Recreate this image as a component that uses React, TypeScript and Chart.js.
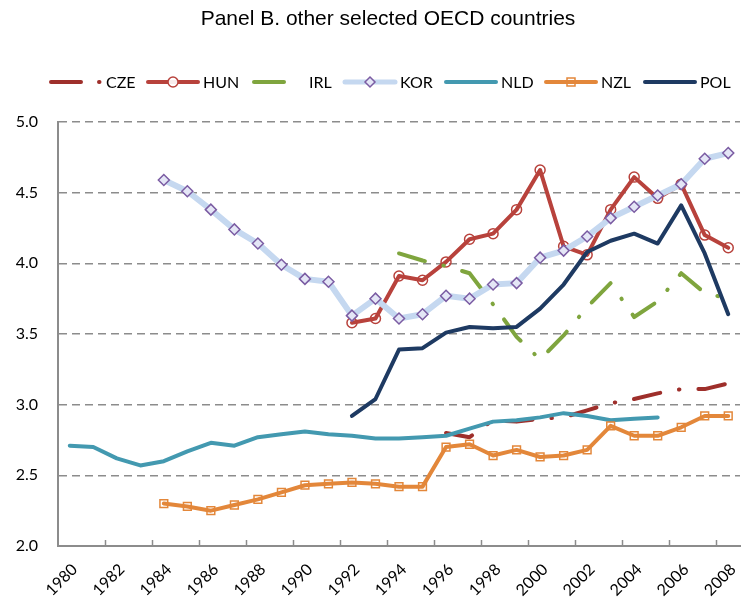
import React, { useEffect, useRef } from 'react';
import { Chart, registerables } from 'chart.js';

Chart.register(...registerables);

const TITLE = 'Panel B. other selected OECD countries';

const years = [
  '1980', '1981', '1982', '1983', '1984', '1985', '1986', '1987', '1988', '1989',
  '1990', '1991', '1992', '1993', '1994', '1995', '1996', '1997', '1998', '1999',
  '2000', '2001', '2002', '2003', '2004', '2005', '2006', '2007', '2008',
];

const yTicks = [2.0, 2.5, 3.0, 3.5, 4.0, 4.5, 5.0];

const CZE = [
  null, null, null, null, null, null, null, null, null, null,
  null, null, null, null, null, null, 2.80, 2.77, 2.89, 2.88,
  2.90, 2.91, 2.96, 3.01, 3.04, 3.08, 3.11, 3.11, 3.15,
];
const HUN = [
  null, null, null, null, null, null, null, null, null, null,
  null, null, 3.58, 3.61, 3.91, 3.88, 4.01, 4.17, 4.21, 4.38,
  4.66, 4.12, 4.06, 4.38, 4.61, 4.46, 4.56, 4.20, 4.11,
];
const IRL = [
  null, null, null, null, null, null, null, null, null, null,
  null, null, null, null, 4.07, 4.02, 3.98, 3.93, 3.71, 3.48,
  3.32, 3.49, 3.69, 3.86, 3.62, 3.73, 3.93, 3.79, 3.75,
];
const KOR = [
  null, null, null, null, 4.59, 4.51, 4.38, 4.24, 4.14, 3.99,
  3.89, 3.87, 3.63, 3.75, 3.61, 3.64, 3.77, 3.75, 3.85, 3.86,
  4.04, 4.09, 4.19, 4.32, 4.40, 4.48, 4.56, 4.74, 4.78,
];
const NLD = [
  2.71, 2.70, 2.62, 2.57, 2.60, 2.67, 2.73, 2.71, 2.77, 2.79,
  2.81, 2.79, 2.78, 2.76, 2.76, 2.77, 2.78, 2.83, 2.88, 2.89,
  2.91, 2.94, 2.92, 2.89, 2.90, 2.91, null, null, null,
];
const NZL = [
  null, null, null, null, 2.30, 2.28, 2.25, 2.29, 2.33, 2.38,
  2.43, 2.44, 2.45, 2.44, 2.42, 2.42, 2.70, 2.72, 2.64, 2.68,
  2.63, 2.64, 2.68, 2.85, 2.78, 2.78, 2.84, 2.92, 2.92,
];
const POL = [
  null, null, null, null, null, null, null, null, null, null,
  null, null, 2.92, 3.04, 3.39, 3.40, 3.51, 3.55, 3.54, 3.55,
  3.68, 3.85, 4.08, 4.16, 4.21, 4.14, 4.41, 4.07, 3.64,
];

const C = {
  CZE: '#9E2F2B',
  HUN: '#B8423C',
  IRL: '#7FA53E',
  KOR: '#C5D8F0',
  KORm: '#7B5CA3',
  KORf: '#E4E6F6',
  NLD: '#4399B0',
  NZL: '#E3873A',
  POL: '#1E3A62',
  grid: '#8C8C8C',
};

const DASHDOT = [27, 19, 0.5, 19];
const FONT = 'Lato, "Open Sans", sans-serif';

type Item = { label: string; color: string; dash?: number[]; marker?: string; mColor?: string; mFill?: string; width: number };
const legendItems: Item[] = [
  { label: 'CZE', color: C.CZE, dash: [30, 18, 0.5, 200], width: 4 },
  { label: 'HUN', color: C.HUN, marker: 'circle', mColor: C.HUN, mFill: 'rgba(255,255,255,0.9)', width: 4 },
  { label: 'IRL', color: C.IRL, dash: [30, 200], width: 4 },
  { label: 'KOR', color: C.KOR, marker: 'diamond', mColor: C.KORm, mFill: C.KORf, width: 5 },
  { label: 'NLD', color: C.NLD, width: 4 },
  { label: 'NZL', color: C.NZL, marker: 'square', mColor: C.NZL, mFill: C.NZL, width: 4 },
  { label: 'POL', color: C.POL, width: 4 },
];
const legendStarts = [49, 146, 252, 343, 444, 544, 643];

const decorPlugin = {
  id: 'decor',
  afterDraw(chart: any) {
    const ctx = chart.ctx as CanvasRenderingContext2D;
    const xs = chart.scales.x;
    const area = chart.chartArea;
    ctx.save();
    // Title
    ctx.font = '19px "Liberation Sans", Arial, sans-serif';
    const w19 = ctx.measureText(TITLE).width;
    const fs = Math.max(17, Math.min(21, (19 * 437) / w19));
    ctx.font = `${fs.toFixed(2)}px "Liberation Sans", Arial, sans-serif`;
    ctx.fillStyle = '#000';
    ctx.textAlign = 'center';
    ctx.textBaseline = 'alphabetic';
    ctx.fillText(TITLE, 388, 25);

    // Inward tick marks on x axis at even-year boundaries
    const catW = xs.getPixelForValue(1) - xs.getPixelForValue(0);
    ctx.strokeStyle = C.grid;
    ctx.lineWidth = 1.5;
    ctx.setLineDash([]);
    for (let i = 2; i < years.length; i += 2) {
      const x = Math.round(xs.getPixelForValue(i) - catW / 2) + 0.5;
      ctx.beginPath();
      ctx.moveTo(x, area.bottom);
      ctx.lineTo(x, area.bottom - 6);
      ctx.stroke();
    }

    // Legend
    const ly = 82;
    ctx.font = `16px ${FONT}`;
    ctx.textAlign = 'left';
    ctx.textBaseline = 'middle';
    legendItems.forEach((it, k) => {
      const x0 = legendStarts[k];
      const len = 52;
      ctx.save();
      ctx.strokeStyle = it.color;
      ctx.lineWidth = it.width;
      ctx.lineCap = 'round';
      ctx.setLineDash(it.dash || []);
      ctx.beginPath();
      ctx.moveTo(x0 + 2, ly);
      ctx.lineTo(x0 + len, ly);
      ctx.stroke();
      ctx.setLineDash([]);
      const mx = x0 + 27;
      if (it.marker) {
        ctx.lineWidth = 1.5;
        ctx.strokeStyle = it.mColor!;
        ctx.fillStyle = it.mFill!;
        ctx.beginPath();
        if (it.marker === 'circle') ctx.arc(mx, ly, 5, 0, Math.PI * 2);
        else if (it.marker === 'diamond') {
          ctx.moveTo(mx, ly - 5); ctx.lineTo(mx + 5, ly); ctx.lineTo(mx, ly + 5); ctx.lineTo(mx - 5, ly); ctx.closePath();
        } else ctx.rect(mx - 4, ly - 4, 8, 8);
        if (it.marker !== 'square') ctx.fill();
        ctx.stroke();
      }
      ctx.restore();
      ctx.fillStyle = '#000';
      ctx.fillText(it.label, x0 + 57, ly + 1);
    });
    ctx.restore();
  },
};

function line(label: string, data: (number | null)[], color: string, order: number, extra: any = {}) {
  return {
    label,
    data,
    borderColor: color,
    backgroundColor: color,
    borderWidth: 4,
    pointRadius: 0,
    pointHoverRadius: 0,
    tension: 0,
    spanGaps: false,
    borderCapStyle: 'round',
    borderJoinStyle: 'round',
    order,
    ...extra,
  };
}

export default function App() {
  const ref = useRef<HTMLCanvasElement>(null);
  useEffect(() => {
    if (!ref.current) return;
    const chart = new Chart(ref.current, {
      type: 'line',
      data: {
        labels: years,
        datasets: [
          line('CZE', CZE, C.CZE, 7, { borderDash: DASHDOT }),
          line('HUN', HUN, C.HUN, 6, {
            pointRadius: 5, pointStyle: 'circle', pointBorderColor: C.HUN,
            pointBackgroundColor: 'rgba(0,0,0,0)', pointBorderWidth: 1.5,
          }),
          line('IRL', IRL, C.IRL, 5, { borderDash: DASHDOT }),
          line('KOR', KOR, C.KOR, 4, {
            borderWidth: 6, pointRadius: 5.5, pointStyle: 'rectRot', pointBorderColor: C.KORm,
            pointBackgroundColor: C.KORf, pointBorderWidth: 1.5,
          }),
          line('NLD', NLD, C.NLD, 3),
          line('NZL', NZL, C.NZL, 2, {
            pointRadius: 5.5, pointStyle: 'rect', pointBorderColor: C.NZL,
            pointBackgroundColor: 'rgba(0,0,0,0)', pointBorderWidth: 1.5,
          }),
          line('POL', POL, C.POL, 1),
        ],
      },
      options: {
        animation: false,
        responsive: false,
        maintainAspectRatio: false,
        layout: { padding: { top: 122, left: 0, right: 0, bottom: 0 } },
        plugins: {
          legend: { display: false },
          title: { display: false },
          tooltip: { enabled: false },
        },
        scales: {
          x: {
            type: 'category',
            offset: true,
            grid: { display: true, drawOnChartArea: false, drawTicks: false, offset: true },
            border: { display: true, color: C.grid, width: 2 },
            ticks: {
              autoSkip: false,
              maxRotation: 45,
              minRotation: 45,
              padding: 14,
              labelOffset: 5,
              color: '#000',
              font: { family: FONT, size: 16 },
              callback: function (this: any, v: any, i: number) {
                return i % 2 === 0 ? years[i] : '';
              },
            },
            afterFit: (s: any) => { s.height = 59; s.paddingLeft = 0; s.paddingRight = 0; },
          },
          y: {
            min: yTicks[0],
            max: yTicks[yTicks.length - 1],
            afterBuildTicks: (s: any) => { s.ticks = yTicks.map((v) => ({ value: v })); },
            ticks: {
              padding: 20,
              color: '#000',
              font: { family: FONT, size: 16 },
              callback: (v: any) => Number(v).toFixed(1),
            },
            grid: { color: C.grid, lineWidth: 1.5, drawTicks: false },
            border: { display: true, color: C.grid, width: 2, dash: [8, 5] },
            afterFit: (s: any) => { s.width = 58; s.paddingTop = 0; s.paddingBottom = 0; },
          },
        },
      } as any,
      plugins: [decorPlugin],
    });
    return () => chart.destroy();
  }, []);
  return (
    <div style={{ position: 'fixed', left: 0, top: 0, width: 747, height: 605, background: '#fff' }}>
      <canvas ref={ref} width={747} height={605} style={{ display: 'block', width: 747, height: 605 }} />
    </div>
  );
}
